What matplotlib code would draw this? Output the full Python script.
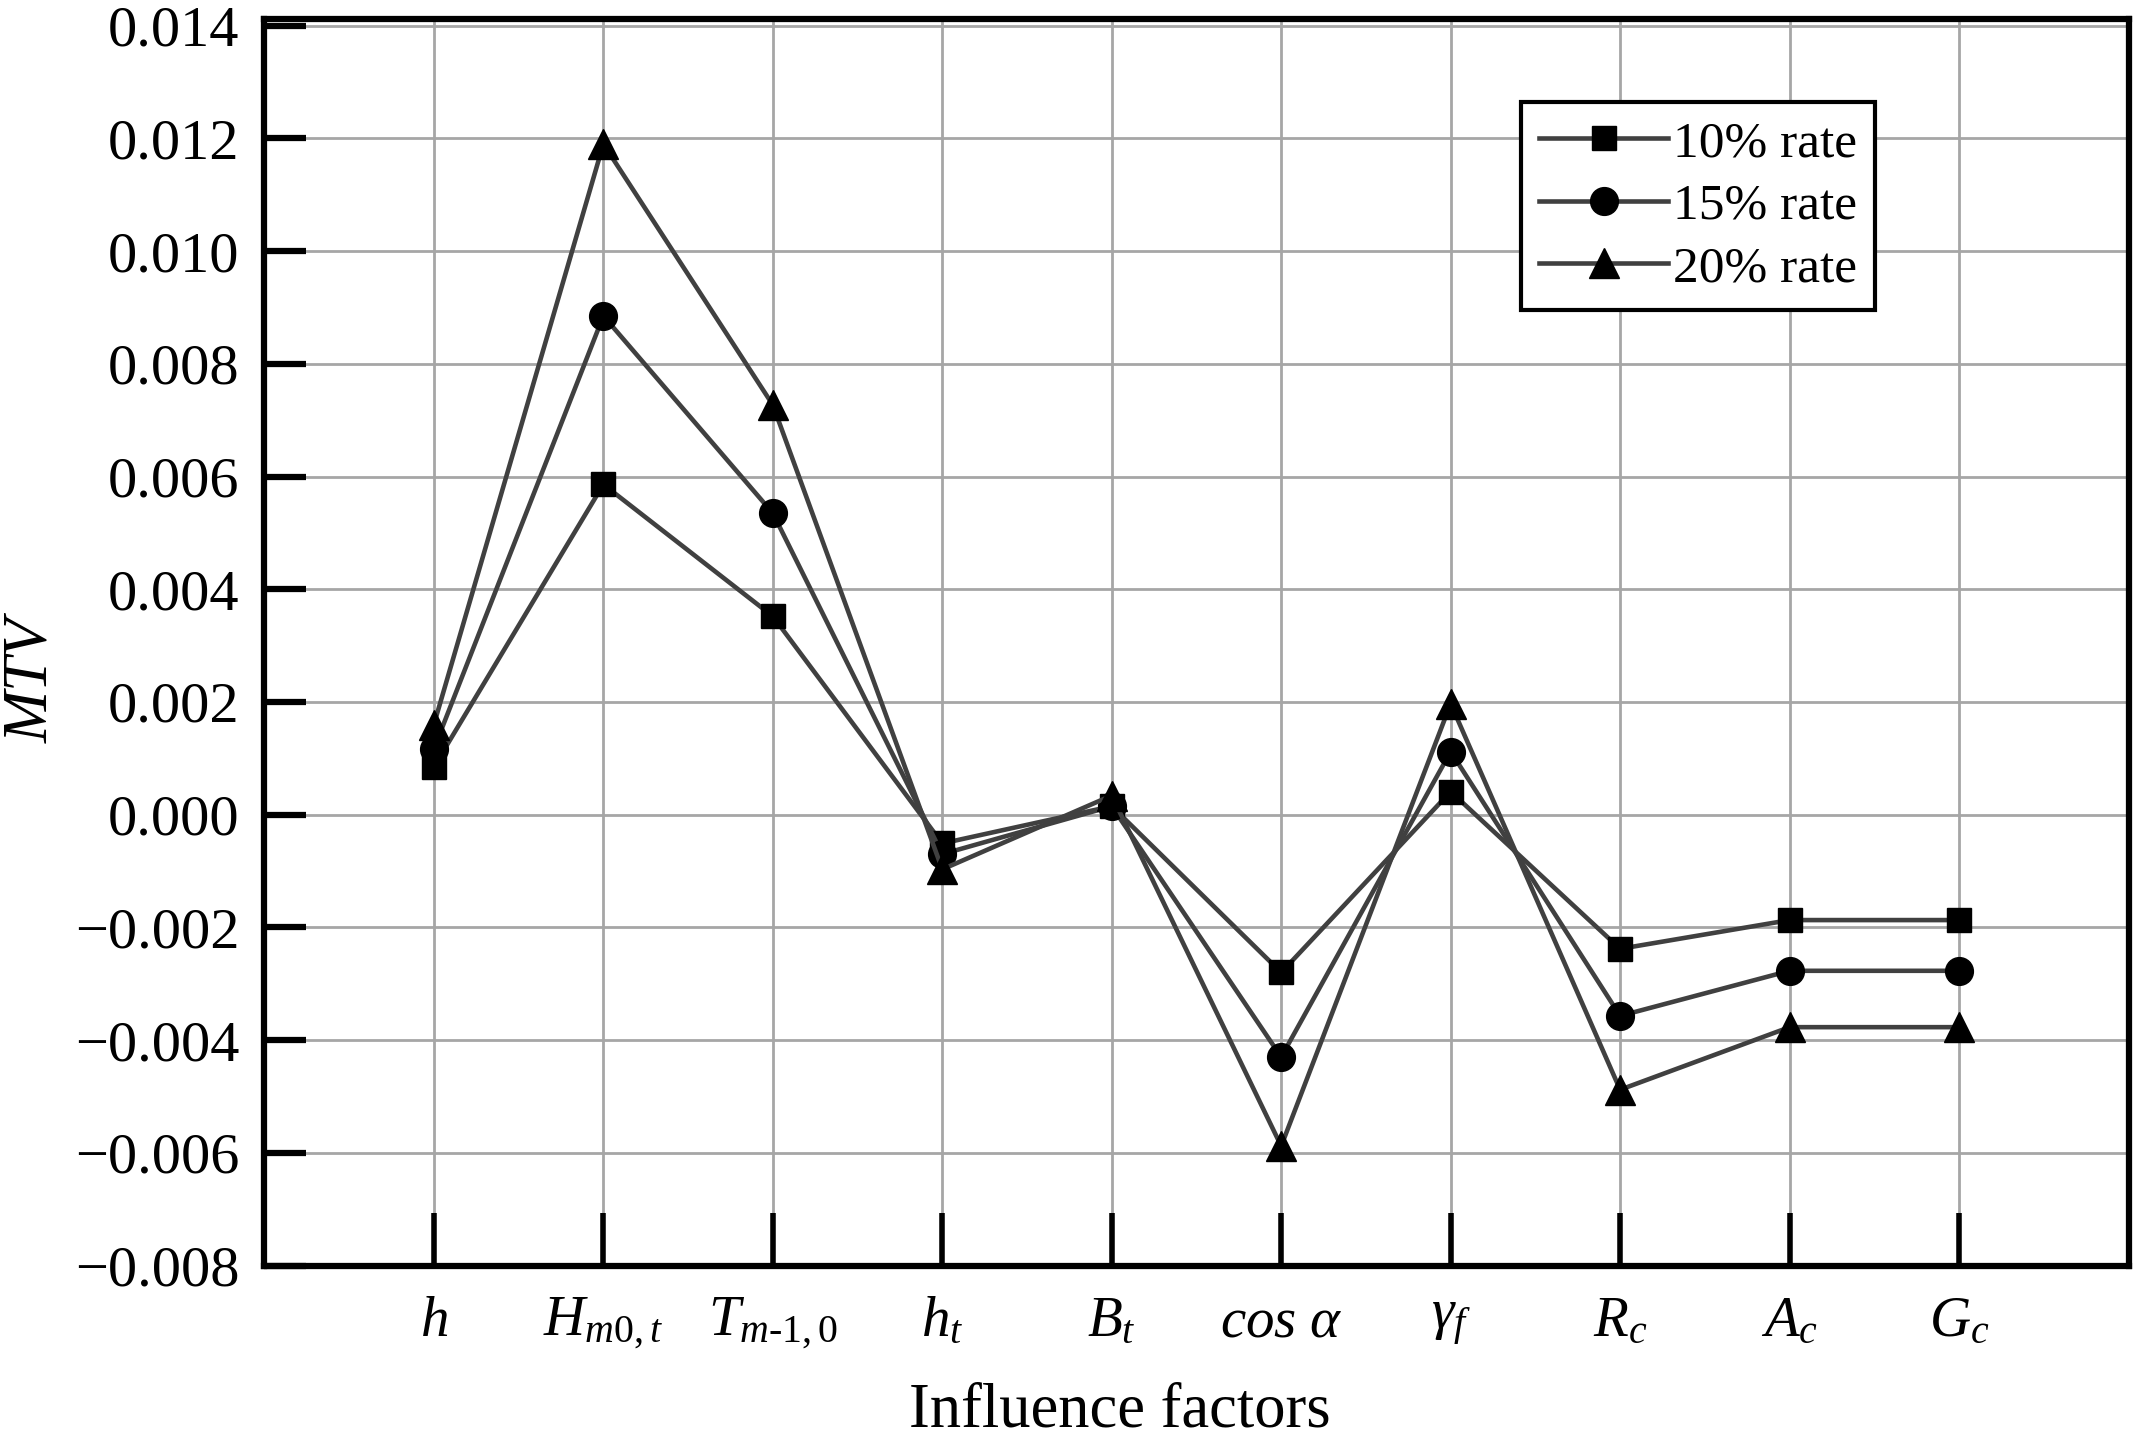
import matplotlib.pyplot as plt
import numpy as np

plt.rcParams['font.family'] = ['Liberation Serif', 'DejaVu Serif']
plt.rcParams['mathtext.fontset'] = 'custom'
plt.rcParams['mathtext.rm'] = 'Liberation Serif'
plt.rcParams['mathtext.it'] = 'Liberation Serif:italic'
plt.rcParams['mathtext.bf'] = 'Liberation Serif:bold'

factors = ['$h$', r'$H_{\mathit{m0,t}}$', '$T_{\\mathit{m\u20101,0}}$', '$h_t$', '$B_t$',
           r'$cos\ \alpha$', r'$\gamma_f$', '$R_c$', '$A_c$', '$G_c$']

rate10 = [0.00085, 0.00586, 0.00352, -0.00051, 0.00015, -0.00280, 0.00041, -0.00238, -0.00187, -0.00187]
rate15 = [0.00117, 0.00885, 0.00535, -0.00070, 0.00015, -0.00430, 0.00112, -0.00357, -0.00277, -0.00277]
rate20 = [0.00160, 0.01190, 0.00727, -0.00097, 0.00034, -0.00588, 0.00197, -0.00488, -0.00377, -0.00377]

series_names = ['10% rate', '15% rate', '20% rate']

yticks = [-0.008, -0.006, -0.004, -0.002, 0.000, 0.002, 0.004, 0.006, 0.008, 0.010, 0.012, 0.014]
ytick_labels = ['\u22120.008', '\u22120.006', '\u22120.004', '\u22120.002', '0.000', '0.002',
                '0.004', '0.006', '0.008', '0.010', '0.012', '0.014']

fig = plt.figure(figsize=(21.5, 14.53), dpi=100)
ax = fig.add_axes([0.123, 0.129, 0.867, 0.858])

x = np.arange(len(factors))
line_col = '#404040'
# three series, markers black, lines dark grey
ax.plot(x, rate10, color=line_col, lw=3.3, marker='s', ms=17, mfc='black', mec='black', label=series_names[0], zorder=3)
ax.plot(x, rate15, color=line_col, lw=3.3, marker='o', ms=20, mfc='black', mec='black', label=series_names[1], zorder=3)
ax.plot(x, rate20, color=line_col, lw=3.3, marker='^', ms=21, mfc='black', mec='black', label=series_names[2], zorder=3)

ax.set_xlim(-1, 10)
ax.set_ylim(-0.008, 0.01412)

ax.set_xticks(x)
ax.set_xticklabels(factors, fontsize=41)
ax.set_yticks(yticks)
ax.set_yticklabels(ytick_labels, fontsize=42)

ax.tick_params(axis='y', direction='in', length=30, width=4.5, pad=18)
ax.tick_params(axis='x', direction='in', length=38, width=4, pad=22)

ax.grid(True, color='#a6a6a6', lw=2.0, zorder=0)
ax.set_axisbelow(True)
for s in ax.spines.values():
    s.set_linewidth(4.5)
    s.set_color('black')

ax.set_xlabel('Influence factors', fontsize=45, x=0.459, labelpad=22)
ax.set_ylabel('MTV', fontsize=45, style='italic', y=0.469, labelpad=10)

leg = ax.legend(loc='upper right', bbox_to_anchor=(0.864, 0.933), fontsize=37,
                frameon=True, fancybox=False, edgecolor='black', handlelength=2.5,
                handletextpad=0.1, labelspacing=0.3, borderpad=0.35, borderaxespad=0)
leg.get_frame().set_linewidth(3)
leg.get_frame().set_alpha(1)

fig.savefig('out.png', dpi=100)
